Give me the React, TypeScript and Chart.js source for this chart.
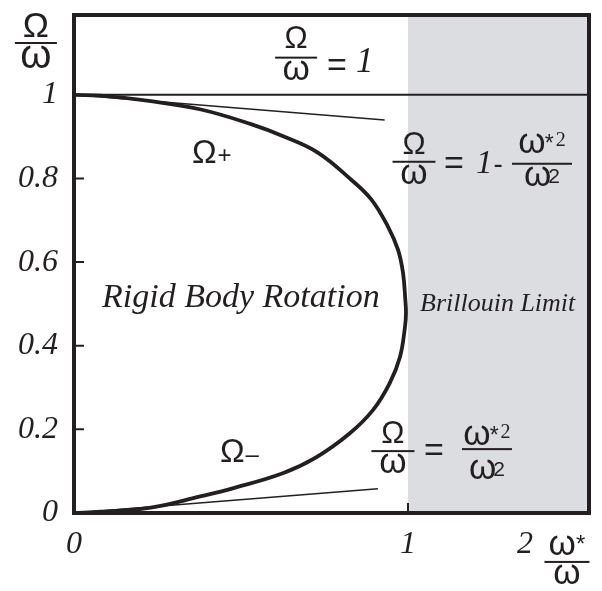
import React, { useEffect, useRef } from 'react';
import { Chart, registerables } from 'chart.js';

Chart.register(...registerables);

// ---- data ----
const curveX = [0, 0.08, 0.23, 0.38, 0.53, 0.63, 0.73, 0.83, 0.89, 0.94, 0.97, 0.985, 0.992, 0.994, 0.991, 0.976, 0.945, 0.895, 0.825, 0.725, 0.625, 0.475, 0.375, 0.23, 0.08, 0];
const curveY = [1, 0.998, 0.985, 0.965, 0.93, 0.9, 0.862, 0.797, 0.75, 0.685, 0.63, 0.575, 0.51, 0.478, 0.445, 0.373, 0.31, 0.246, 0.19, 0.133, 0.095, 0.059, 0.039, 0.013, 0.003, 0];
const upperTangentX = [0, 0.93];
const upperTangentY = [1, 0.94];
const lowerTangentX = [0, 0.91];
const lowerTangentY = [0, 0.058];
const unityX = [0, 1.542];
const unityY = [1, 1];
const brillouinLimitX = 1;
const xRange = [0, 1.542];
const yRange = [0, 1.191];
const yTickValues = [0, 0.2, 0.4, 0.6, 0.8, 1];
const yTickLabels = ['0', '0.2', '0.4', '0.6', '0.8', '1'];
const yTickMarks = [0.2, 0.4, 0.6, 0.8];
const xTickValues = [0, 1, 1.35];
const xTickLabels = ['0', '1', '2'];
const xTickMarks = [1];

const INK = '#231f20';
const SHADE = '#dcdde0';
const SANS = '"Liberation Sans", Arial, sans-serif';
const SERIF = '"Liberation Serif", "Times New Roman", serif';
const sans = (s: number) => `${s}px ${SANS}`;
const serif = (s: number) => `${s}px ${SERIF}`;
const ital = (s: number) => `italic ${s}px ${SERIF}`;

type Seg = { t: string; f: string; dy?: number; dx?: number };

function segsWidth(ctx: CanvasRenderingContext2D, segs: Seg[]) {
  let w = 0;
  for (const s of segs) {
    ctx.font = s.f;
    w += ctx.measureText(s.t).width + (s.dx || 0);
  }
  return w;
}
function drawSegs(ctx: CanvasRenderingContext2D, segs: Seg[], x: number, y: number, align: 'left' | 'center') {
  const w = segsWidth(ctx, segs);
  let cx = align === 'center' ? x - w / 2 : x;
  ctx.textAlign = 'left';
  ctx.textBaseline = 'alphabetic';
  for (const s of segs) {
    ctx.font = s.f;
    cx += s.dx || 0;
    ctx.fillText(s.t, cx, y + (s.dy || 0));
    cx += ctx.measureText(s.t).width;
  }
}
function frac(ctx: CanvasRenderingContext2D, cx: number, by: number, num: Seg[], den: Seg[], barW: number, numOff = 8, denOff = 22) {
  drawSegs(ctx, num, cx, by - numOff, 'center');
  drawSegs(ctx, den, cx, by + denOff, 'center');
  ctx.fillRect(cx - barW / 2, by - 1, barW, 2);
}

const OM: Seg[] = [{ t: 'Ω', f: sans(31) }];
const om: Seg[] = [{ t: 'ω', f: sans(35) }];
const OMbig: Seg[] = [{ t: 'Ω', f: sans(35) }];
const ombig: Seg[] = [{ t: 'ω', f: sans(40) }];
const omStar: Seg[] = [{ t: 'ω', f: sans(35) }, { t: '*', f: sans(24), dy: -3, dx: 0 }];
const omStar2: Seg[] = [{ t: 'ω', f: sans(35) }, { t: '*', f: sans(23), dy: -2, dx: -1 }, { t: '2', f: serif(20), dy: -7, dx: 2 }];
const omSq: Seg[] = [{ t: 'ω', f: sans(35) }, { t: '2', f: sans(21), dy: -3, dx: -3 }];

const shadePlugin = {
  id: 'shade',
  beforeDatasetsDraw(chart: any) {
    const { ctx, chartArea: a, scales } = chart;
    const x0 = scales.x.getPixelForValue(brillouinLimitX);
    ctx.save();
    ctx.fillStyle = SHADE;
    ctx.fillRect(x0, a.top, a.right - x0, a.bottom - a.top);
    ctx.restore();
  },
};

const decorPlugin = {
  id: 'decor',
  afterDatasetsDraw(chart: any) {
    const { ctx, chartArea: a, scales } = chart;
    const X = (v: number) => scales.x.getPixelForValue(v);
    const Y = (v: number) => scales.y.getPixelForValue(v);
    ctx.save();
    ctx.strokeStyle = INK;
    ctx.fillStyle = INK;
    // frame
    ctx.lineWidth = 4;
    ctx.strokeRect(a.left, a.top, a.right - a.left, a.bottom - a.top);
    // inner tick marks
    ctx.lineWidth = 2;
    ctx.beginPath();
    for (const v of yTickMarks) {
      ctx.moveTo(a.left, Y(v));
      ctx.lineTo(a.left + 10, Y(v));
    }
    for (const v of xTickMarks) {
      ctx.moveTo(X(v), a.bottom);
      ctx.lineTo(X(v), a.bottom - 10);
    }
    ctx.stroke();

    // y-axis title Ω/ω
    frac(ctx, X(-0.114), Y(1.124), OMbig, ombig, 42, 6, 25);
    // Ω/ω = 1
    {
      const cx = X(0.665), by = Y(1.089);
      frac(ctx, cx, by, OM, om, 42, 10, 22);
      drawSegs(ctx, [{ t: '=', f: sans(34) }], cx + 31, by + 18, 'left');
      drawSegs(ctx, [{ t: '1', f: ital(35) }], cx + 60, by + 14, 'left');
    }
    // Ω+
    drawSegs(ctx, [{ t: 'Ω', f: sans(33) }, { t: '+', f: sans(24), dy: 0, dx: 1 }], X(0.353), Y(0.837), 'left');
    // Ω/ω = 1 - ω*²/ω²
    {
      const cx = X(1.018), by = Y(0.84);
      frac(ctx, cx, by, OM, om, 43, 8, 22);
      drawSegs(ctx, [{ t: '=', f: sans(34) }], cx + 30, by + 12, 'left');
      drawSegs(ctx, [{ t: '1', f: ital(33) }, { t: '-', f: sans(28), dx: 1 }], cx + 62, by + 11, 'left');
      frac(ctx, cx + 128, by + 2, omStar2, omSq, 60, 11, 22);
    }
    // Rigid Body Rotation
    drawSegs(ctx, [{ t: 'Rigid Body Rotation', f: ital(34) }], X(0.084), Y(0.493), 'left');
    // Brillouin Limit
    drawSegs(ctx, [{ t: 'Brillouin Limit', f: ital(26) }], X(1.036), Y(0.483), 'left');
    // Ω−
    drawSegs(ctx, [{ t: 'Ω', f: sans(33) }, { t: '–', f: sans(24), dy: 0, dx: 1 }], X(0.437), Y(0.122), 'left');
    // Ω/ω = ω*²/ω²
    {
      const cx = X(0.955), by = Y(0.148);
      frac(ctx, cx, by, OM, om, 43, 8, 22);
      drawSegs(ctx, [{ t: '=', f: sans(34) }], cx + 31, by + 10, 'left');
      frac(ctx, cx + 94, by - 2, omStar2, omSq, 50, 4, 30);
    }
    // x-axis title ω*/ω
    frac(ctx, X(1.476), Y(-0.117), omStar, om, 45, 7, 22);
    ctx.restore();
  },
};

const lineDs = (xs: number[], ys: number[], w: number) => ({
  data: xs.map((x, i) => ({ x, y: ys[i] })),
  borderColor: INK,
  borderWidth: w,
  pointRadius: 0,
  showLine: true,
  fill: false,
  tension: 0,
});

export default function App() {
  const ref = useRef<HTMLCanvasElement | null>(null);
  useEffect(() => {
    if (!ref.current) return;
    const chart = new Chart(ref.current, {
      type: 'scatter',
      data: {
        datasets: [
          { ...lineDs(curveX, curveY, 3.8), tension: 0.4 },
          lineDs(upperTangentX, upperTangentY, 1.5),
          lineDs(lowerTangentX, lowerTangentY, 1.5),
          lineDs(unityX, unityY, 2),
        ] as any,
      },
      options: {
        animation: false,
        responsive: false,
        maintainAspectRatio: false,
        devicePixelRatio: 1,
        layout: { padding: { top: 15, right: 13, left: 0, bottom: 0 } },
        plugins: { legend: { display: false }, tooltip: { enabled: false } },
        scales: {
          x: {
            type: 'linear',
            min: xRange[0],
            max: xRange[1],
            afterBuildTicks: (s: any) => {
              s.ticks = xTickValues.map((v) => ({ value: v }));
            },
            afterFit: (s: any) => {
              s.height = 78;
              s.paddingLeft = 0;
              s.paddingRight = 0;
            },
            grid: { display: false, drawTicks: false },
            border: { display: false },
            ticks: {
              autoSkip: false,
              maxRotation: 0,
              padding: 12,
              color: INK,
              font: { family: 'Liberation Serif', style: 'italic', size: 32 },
              callback: (_v: any, i: number) => xTickLabels[i],
            },
          },
          y: {
            type: 'linear',
            min: yRange[0],
            max: yRange[1],
            afterBuildTicks: (s: any) => {
              s.ticks = yTickValues.map((v) => ({ value: v }));
            },
            afterFit: (s: any) => {
              s.width = 74;
              s.paddingTop = 0;
              s.paddingBottom = 0;
            },
            grid: { display: false, drawTicks: false },
            border: { display: false },
            ticks: {
              autoSkip: false,
              padding: 16,
              color: INK,
              font: { family: 'Liberation Serif', style: 'italic', size: 32 },
              callback: (_v: any, i: number) => yTickLabels[i],
            },
          },
        },
      } as any,
      plugins: [shadePlugin, decorPlugin],
    });
    return () => chart.destroy();
  }, []);
  return (
    <div style={{ position: 'fixed', left: 0, top: 0, width: 602, height: 591, background: '#fff' }}>
      <canvas ref={ref} width={602} height={591} style={{ display: 'block', width: 602, height: 591 }} />
    </div>
  );
}
